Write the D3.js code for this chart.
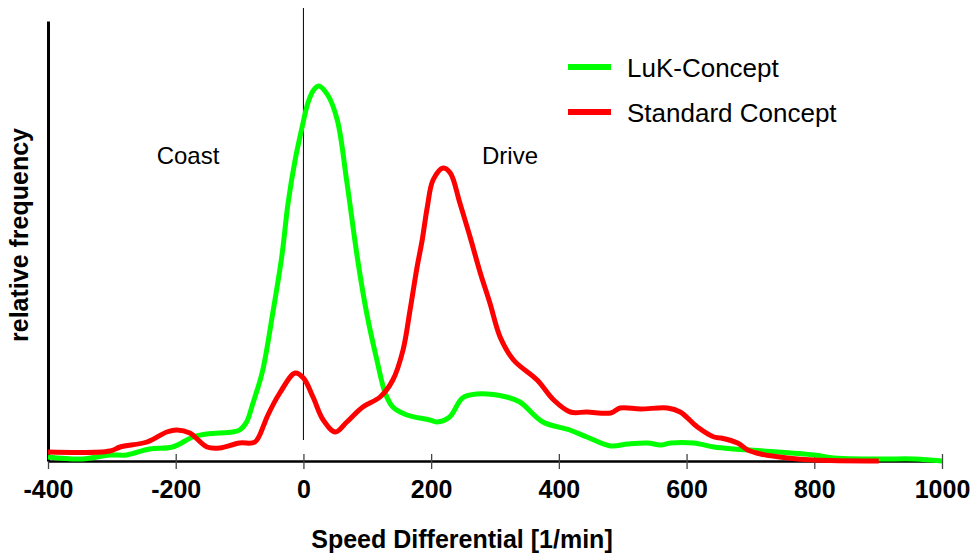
<!DOCTYPE html>
<html>
<head>
<meta charset="utf-8">
<script src="https://cdn.jsdelivr.net/npm/d3@7"></script>
<style>
  body { margin: 0; background: #fff; }
  text { font-family: "Liberation Sans", Arial, sans-serif; }
</style>
</head>
<body>
<div id="chart"></div>
<script>
// speed differential [1/min] and relative frequency (arbitrary units)
var lukX = [-400, -346, -303, -277, -241, -205, -173, -151, -111, -100, -89, -79, -64, -48, -34, -24, -13, -2, 7, 16, 24, 38, 53, 68, 85, 99, 115, 128, 140, 162, 198, 209, 229, 249, 271, 318, 339, 375, 417, 444, 481, 508, 539, 559, 575, 611, 643, 674, 721, 800, 831, 905, 957, 1000];
var lukY = [4, 2, 6, 6, 12, 14, 24, 27, 29, 31, 39, 58, 90, 148, 204, 258, 301, 334, 358, 371, 375, 366, 341, 279, 201, 148, 101, 68, 54, 46, 41, 39, 44, 63, 67, 64, 59, 39, 31, 24, 15, 17, 18, 16, 18, 18, 14, 12, 10, 6, 3, 2, 2, 0];

var stdX = [-400, -303, -287, -245, -214, -198, -178, -151, -131, -100, -76, -62, -57, -37, -13, 0, 15, 31, 50, 68, 93, 120, 140, 156, 167, 178, 186, 194, 203, 219, 230, 245, 261, 277, 292, 308, 329, 366, 392, 418, 444, 481, 496, 528, 570, 590, 617, 643, 654, 680, 696, 716, 758, 799, 901];
var stdY = [9, 10, 14, 19, 29, 31, 28, 14, 13, 18, 19, 36, 44, 68, 88, 83, 64, 41, 29, 39, 54, 64, 81, 111, 151, 194, 221, 254, 281, 293, 288, 258, 224, 188, 158, 124, 101, 81, 61, 49, 49, 48, 53, 52, 53, 49, 34, 24, 23, 18, 11, 7, 3, 1, 0];

var xTicks = [-400, -200, 0, 200, 400, 600, 800, 1000];
var seriesNames = ["LuK-Concept", "Standard Concept"];
var seriesColors = ["#00ff00", "#ff0000"];
var regionLabels = ["Coast", "Drive"];

var width = 970, height = 557;
var margin = {top: 21, right: 28, bottom: 96, left: 48};

var svg = d3.select("#chart").append("svg")
    .attr("width", width)
    .attr("height", height);

var x = d3.scaleLinear().domain([-400, 1000]).range([margin.left, width - margin.right]);
var y = d3.scaleLinear().domain([0, 440]).range([height - margin.bottom, margin.top]);

// zero line
svg.append("line")
    .attr("x1", x(0)).attr("x2", x(0))
    .attr("y1", y(21)).attr("y2", y(453))
    .attr("stroke", "#000")
    .attr("stroke-width", 1);

// x axis
var xAxis = svg.append("g")
    .attr("transform", "translate(0," + y(0) + ")")
    .call(d3.axisBottom(x).tickValues(xTicks).tickSizeInner(8).tickSizeOuter(0).tickPadding(11)
        .tickFormat(function(d) { return String(d); }));
xAxis.select(".domain").attr("stroke", "#000").attr("stroke-width", 2.5);
xAxis.selectAll(".tick line").attr("y1", -7).attr("stroke", "#444").attr("stroke-width", 1.3);
xAxis.selectAll(".tick text")
    .attr("fill", "#000")
    .style("font-size", "25px")
    .style("font-weight", "bold")
    .style("font-family", "'Liberation Sans', Arial, sans-serif");

// y axis (no ticks)
var yAxis = svg.append("g")
    .attr("transform", "translate(" + x(-400) + ",0)")
    .call(d3.axisLeft(y).tickValues([]).tickSizeOuter(0));
yAxis.select(".domain").attr("stroke", "#000").attr("stroke-width", 3);

// curves
var line = d3.line()
    .x(function(d) { return x(d[0]); })
    .y(function(d) { return y(d[1]); })
    .curve(d3.curveCatmullRom.alpha(0.5));

var series = [d3.zip(lukX, lukY), d3.zip(stdX, stdY)];

svg.selectAll(".curve")
    .data(series)
  .enter().append("path")
    .attr("class", "curve")
    .attr("d", line)
    .attr("fill", "none")
    .attr("stroke", function(d, i) { return seriesColors[i]; })
    .attr("stroke-width", 5)
    .attr("stroke-linejoin", "round");

// axis titles
svg.append("text")
    .attr("x", 462)
    .attr("y", 548)
    .attr("text-anchor", "middle")
    .style("font-size", "25px")
    .style("font-weight", "bold")
    .text("Speed Differential [1/min]");

svg.append("text")
    .attr("transform", "translate(28,235) rotate(-90)")
    .attr("text-anchor", "middle")
    .style("font-size", "25px")
    .style("font-weight", "bold")
    .text("relative frequency");

// region labels
svg.append("text")
    .attr("x", 188).attr("y", 164)
    .attr("text-anchor", "middle")
    .style("font-size", "24px")
    .text(regionLabels[0]);
svg.append("text")
    .attr("x", 510).attr("y", 164)
    .attr("text-anchor", "middle")
    .style("font-size", "24px")
    .text(regionLabels[1]);

// legend
var legend = svg.selectAll(".legend")
    .data(seriesNames)
  .enter().append("g")
    .attr("class", "legend")
    .attr("transform", function(d, i) { return "translate(568," + (67 + i * 45) + ")"; });

legend.append("line")
    .attr("x1", 0).attr("x2", 43)
    .attr("y1", 0).attr("y2", 0)
    .attr("stroke", function(d, i) { return seriesColors[i]; })
    .attr("stroke-width", 6);

legend.append("text")
    .attr("x", 59)
    .attr("y", 10)
    .style("font-size", "26px")
    .text(function(d) { return d; });
</script>
</body>
</html>
